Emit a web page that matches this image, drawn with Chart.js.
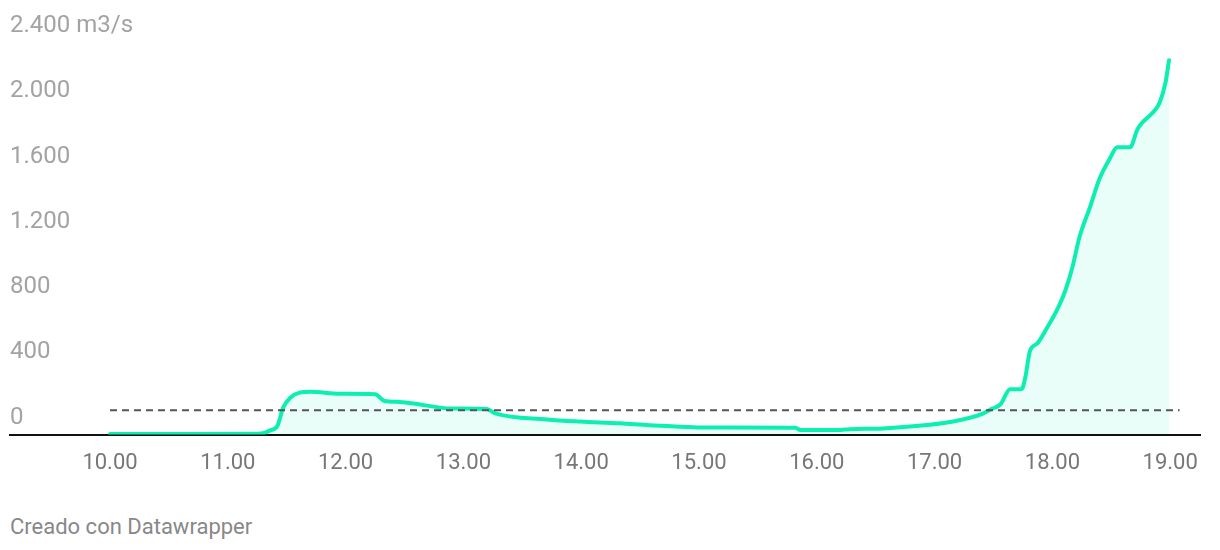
<!DOCTYPE html>
<html>
<head>
<meta charset="utf-8">
<script src="https://cdn.jsdelivr.net/npm/chart.js@4"></script>
<style>
  html, body { margin: 0; padding: 0; background: #fff; }
  body { width: 1220px; height: 550px; position: relative; overflow: hidden; font-family: Roboto, "Noto Sans", sans-serif; }
  #wrap { position: absolute; left: 0; top: 0; width: 1220px; height: 493px; }
  #credit { position: absolute; left: 10px; top: 514px; font-size: 22px; color: #888; }
</style>
</head>
<body>
<div id="wrap"><canvas id="flowChart"></canvas></div>
<div id="credit">Creado con Datawrapper</div>
<script>
// hora (decimal) y caudal en m3/s
const hours = [10.00, 10.59, 11.25, 11.30, 11.36, 11.42, 11.47, 11.53, 11.61, 11.70, 11.95, 12.25, 12.33, 12.46, 12.63, 12.89, 13.20, 13.27, 13.71, 13.99, 14.33, 14.58, 14.92, 15.01, 15.82, 15.86, 16.20, 16.28, 16.56, 17.13, 17.41, 17.47, 17.56, 17.64, 17.74, 17.77, 17.81, 17.87, 17.94, 18.05, 18.11, 18.17, 18.23, 18.32, 18.40, 18.49, 18.55, 18.66, 18.72, 18.76, 18.85, 18.91, 18.96, 18.99];
const flow = [3, 3, 5, 8, 26, 52, 165, 226, 257, 262, 250, 248, 206, 200, 185, 160, 157, 130, 93, 80, 69, 57, 46, 43, 42, 28, 28, 33, 38, 77, 128, 153, 186, 278, 280, 350, 514, 557, 637, 780, 883, 1026, 1211, 1396, 1568, 1695, 1761, 1761, 1868, 1910, 1972, 2034, 2157, 2294];

const threshold = 150;
const thresholdHours = [10.00, 19.08];

const xTicks = [10, 11, 12, 13, 14, 15, 16, 17, 18, 19];
const yTicks = [0, 400, 800, 1200, 1600, 2000, 2400];
const unit = "m3/s";

function fmtThousands(v) {
  return String(v).replace(/\B(?=(\d{3})+(?!\d))/g, ".");
}

function createChart() {
  const ctx = document.getElementById("flowChart").getContext("2d");
  return new Chart(ctx, {
    type: "line",
    data: {
      datasets: [
        {
          label: "Caudal",
          data: hours.map((h, i) => ({ x: h, y: flow[i] })),
          borderColor: "#0cefb0",
          backgroundColor: "rgba(12, 239, 176, 0.09)",
          borderWidth: 4,
          borderCapStyle: "round",
          borderJoinStyle: "round",
          pointRadius: 0,
          cubicInterpolationMode: "monotone",
          fill: "origin",
          order: 2,
        },
        {
          label: "Umbral",
          data: thresholdHours.map((h) => ({ x: h, y: threshold })),
          borderColor: "#555",
          borderWidth: 2,
          borderDash: [7, 5],
          pointRadius: 0,
          fill: false,
          order: 1,
        },
      ],
    },
    options: {
      responsive: true,
      maintainAspectRatio: false,
      animation: false,
      layout: { padding: { left: 10, right: 20, top: 43, bottom: 0 } },
      plugins: { legend: { display: false }, tooltip: { enabled: false } },
      scales: {
        x: {
          type: "linear",
          min: 9.151,
          max: 19.253,
          afterBuildTicks: (axis) => {
            axis.ticks = xTicks.map((v) => ({ value: v }));
          },
          grid: { display: false, drawTicks: false },
          border: { display: true, color: "#111", width: 2 },
          ticks: {
            color: "#777",
            font: { family: "Roboto", size: 22 },
            padding: 16,
            maxRotation: 0,
            autoSkip: false,
            callback: (v) => v + ".00",
          },
        },
        y: {
          min: 0,
          max: 2400,
          afterBuildTicks: (axis) => {
            axis.ticks = yTicks.map((v) => ({ value: v }));
          },
          grid: { display: false, drawTicks: false },
          border: { display: false },
          ticks: {
            mirror: true,
            padding: 0,
            labelOffset: -17,
            color: "#a3a3a3",
            font: { family: "Roboto", size: 24 },
            callback: (v) => (v === 2400 ? fmtThousands(v) + " " + unit : fmtThousands(v)),
          },
        },
      },
    },
  });
}

createChart();
</script>
</body>
</html>
